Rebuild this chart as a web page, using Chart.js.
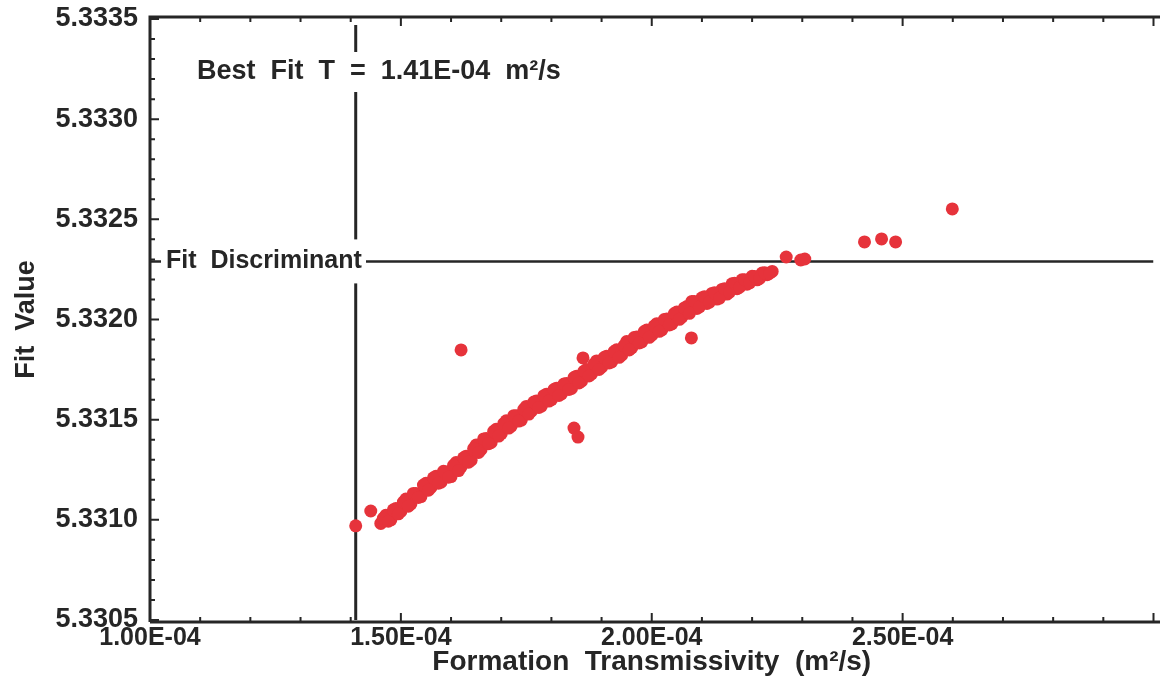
<!DOCTYPE html>
<html>
<head>
<meta charset="utf-8">
<script src="https://cdn.jsdelivr.net/npm/chart.js@4.4.1/dist/chart.umd.min.js"></script>
<style>
  html, body { margin: 0; background: #fff; }
  #wrap { width: 1160px; height: 685px; }
</style>
</head>
<body>
<div id="wrap"><canvas id="fitChart"></canvas></div>
<script>
// Formation transmissivity (m2/s) vs fit value
// main band, first pass
const bandT1 = [
  1.46e-4, 1.47e-4, 1.48e-4, 1.49e-4, 1.50e-4, 1.51e-4, 1.52e-4, 1.53e-4, 1.54e-4, 1.55e-4,
  1.56e-4, 1.57e-4, 1.58e-4, 1.59e-4, 1.60e-4, 1.61e-4, 1.62e-4, 1.63e-4, 1.64e-4, 1.65e-4,
  1.66e-4, 1.67e-4, 1.68e-4, 1.69e-4, 1.70e-4, 1.71e-4, 1.72e-4, 1.73e-4, 1.74e-4, 1.75e-4,
  1.76e-4, 1.77e-4, 1.78e-4, 1.79e-4, 1.80e-4, 1.81e-4, 1.82e-4, 1.83e-4, 1.84e-4, 1.85e-4,
  1.86e-4, 1.87e-4, 1.88e-4, 1.89e-4, 1.90e-4, 1.91e-4, 1.92e-4, 1.93e-4, 1.94e-4, 1.95e-4,
  1.96e-4, 1.97e-4, 1.98e-4, 1.99e-4, 2.00e-4, 2.01e-4, 2.02e-4, 2.03e-4, 2.04e-4, 2.05e-4,
  2.06e-4, 2.07e-4, 2.08e-4, 2.09e-4, 2.10e-4, 2.11e-4, 2.12e-4, 2.13e-4, 2.14e-4, 2.15e-4,
  2.16e-4, 2.17e-4, 2.18e-4, 2.19e-4, 2.20e-4, 2.21e-4, 2.22e-4, 2.23e-4, 2.24e-4
];
const bandFit1 = [
  5.330982, 5.331023, 5.331000, 5.331056, 5.331042, 5.331104, 5.331080, 5.331132, 5.331116, 5.331182,
  5.331162, 5.331217, 5.331188, 5.331239, 5.331216, 5.331286, 5.331264, 5.331318, 5.331298, 5.331373,
  5.331352, 5.331406, 5.331386, 5.331452, 5.331430, 5.331494, 5.331468, 5.331519, 5.331498, 5.331566,
  5.331542, 5.331593, 5.331568, 5.331627, 5.331600, 5.331657, 5.331628, 5.331681, 5.331656, 5.331717,
  5.331692, 5.331750, 5.331728, 5.331793, 5.331762, 5.331817, 5.331788, 5.331849, 5.331822, 5.331890,
  5.331858, 5.331913, 5.331888, 5.331947, 5.331922, 5.331979, 5.331948, 5.332003, 5.331978, 5.332037,
  5.332012, 5.332065, 5.332090, 5.332055, 5.332108, 5.332080, 5.332130, 5.332102, 5.332150, 5.332127,
  5.332178, 5.332154, 5.332198, 5.332176, 5.332216, 5.332198, 5.332232, 5.332224, 5.332240
];
// main band, second pass
const bandT2 = [
  1.465e-4, 1.475e-4, 1.485e-4, 1.495e-4, 1.505e-4, 1.515e-4, 1.525e-4, 1.535e-4, 1.545e-4, 1.555e-4,
  1.565e-4, 1.575e-4, 1.585e-4, 1.595e-4, 1.605e-4, 1.615e-4, 1.625e-4, 1.635e-4, 1.645e-4, 1.655e-4,
  1.665e-4, 1.675e-4, 1.685e-4, 1.695e-4, 1.705e-4, 1.715e-4, 1.725e-4, 1.735e-4, 1.745e-4, 1.755e-4,
  1.765e-4, 1.775e-4, 1.785e-4, 1.795e-4, 1.805e-4, 1.815e-4, 1.825e-4, 1.835e-4, 1.845e-4, 1.855e-4,
  1.865e-4, 1.875e-4, 1.885e-4, 1.895e-4, 1.905e-4, 1.915e-4, 1.925e-4, 1.935e-4, 1.945e-4, 1.955e-4,
  1.965e-4, 1.975e-4, 1.985e-4, 1.995e-4, 2.005e-4, 2.015e-4, 2.025e-4, 2.035e-4, 2.045e-4, 2.055e-4,
  2.065e-4, 2.075e-4, 2.085e-4, 2.095e-4, 2.105e-4, 2.115e-4, 2.125e-4, 2.135e-4, 2.145e-4, 2.155e-4,
  2.165e-4, 2.175e-4, 2.185e-4, 2.195e-4, 2.205e-4, 2.215e-4, 2.225e-4, 2.235e-4
];
const bandFit2 = [
  5.331008, 5.330993, 5.331050, 5.331030, 5.331088, 5.331068, 5.331132, 5.331112, 5.331174, 5.331148,
  5.331210, 5.331183, 5.331242, 5.331213, 5.331272, 5.331246, 5.331310, 5.331288, 5.331355, 5.331336,
  5.331404, 5.331380, 5.331442, 5.331418, 5.331480, 5.331458, 5.331520, 5.331493, 5.331552, 5.331528,
  5.331588, 5.331561, 5.331620, 5.331593, 5.331650, 5.331621, 5.331678, 5.331651, 5.331710, 5.331683,
  5.331742, 5.331718, 5.331778, 5.331751, 5.331810, 5.331783, 5.331840, 5.331811, 5.331870, 5.331848,
  5.331910, 5.331883, 5.331940, 5.331911, 5.331968, 5.331941, 5.332000, 5.331973, 5.332030, 5.332001,
  5.332058, 5.332031, 5.332090, 5.332063, 5.332113, 5.332087, 5.332133, 5.332107, 5.332154, 5.332137,
  5.332181, 5.332161, 5.332199, 5.332183, 5.332215, 5.332205, 5.332233, 5.332231
];
// scattered points off the band
const outlierT = [
  1.41e-4, 1.44e-4, 1.62e-4, 1.845e-4, 1.853e-4, 1.863e-4, 2.079e-4,
  2.268e-4, 2.297e-4, 2.305e-4, 2.424e-4, 2.458e-4, 2.486e-4, 2.599e-4
];
const outlierFit = [
  5.33097, 5.331044, 5.331848, 5.331458, 5.331413, 5.331808, 5.331908,
  5.332312, 5.332297, 5.332302, 5.332387, 5.332402, 5.332387, 5.332552
];

const bestFitT = 1.41e-4;
const fitDiscriminant = 5.33229;

const xTickValues = [1.0e-4, 1.5e-4, 2.0e-4, 2.5e-4];
const xTickLabels = ["1.00E-04", "1.50E-04", "2.00E-04", "2.50E-04"];
const yTickValues = [5.3305, 5.3310, 5.3315, 5.3320, 5.3325, 5.3330, 5.3335];
const yTickLabels = ["5.3305", "5.3310", "5.3315", "5.3320", "5.3325", "5.3330", "5.3335"];

const xMin = 1.0e-4, xMax = 3.0e-4, xMinorStep = 1.0e-5;
const yMin = 5.3305, yMax = 5.3335, yMinorStep = 1.0e-4;

const ink = "#262626";
const FONT = "'Liberation Sans', Arial, sans-serif";

const transmissivity = [...bandT1, ...bandT2, ...outlierT];
const fitValue = [...bandFit1, ...bandFit2, ...outlierFit];
const points = transmissivity.map((t, i) => ({ x: t, y: fitValue[i] }));

// frame + inward ticks + boxed labels
const framePlugin = {
  id: "frame",
  beforeDatasetsDraw(chart) {
    const { ctx, chartArea: a, scales: { x, y } } = chart;
    const right = chart.width;
    ctx.save();
    ctx.strokeStyle = ink;
    ctx.lineWidth = 3;
    ctx.beginPath();
    ctx.moveTo(a.left, a.bottom + 2);
    ctx.lineTo(a.left, a.top - 2);
    ctx.lineTo(right, a.top - 2);
    ctx.moveTo(a.left, a.bottom + 2);
    ctx.lineTo(right, a.bottom + 2);
    ctx.stroke();

    ctx.lineWidth = 2;
    ctx.beginPath();
    for (let i = 0; xMin + i * xMinorStep <= xMax + 1e-12; i++) {
      const v = xMin + i * xMinorStep;
      const px = x.getPixelForValue(v);
      const len = i % 5 === 0 ? 9 : 5;
      ctx.moveTo(px, a.bottom + 2);
      ctx.lineTo(px, a.bottom + 2 - len);
      ctx.moveTo(px, a.top - 2);
      ctx.lineTo(px, a.top - 2 + len);
    }
    for (let i = 0; yMin + i * yMinorStep <= yMax + 1e-9; i++) {
      const v = yMin + i * yMinorStep;
      const py = y.getPixelForValue(v);
      const len = i % 5 === 0 ? 9 : 5;
      ctx.moveTo(a.left, py);
      ctx.lineTo(a.left + len, py);
    }
    ctx.stroke();
    ctx.restore();
  },
  afterDatasetsDraw(chart) {
    const { ctx, scales: { y } } = chart;
    ctx.save();
    ctx.textBaseline = "middle";

    // Best fit label
    const bfY = 72;
    ctx.fillStyle = "#fff";
    ctx.fillRect(190, bfY - 20, 385, 40);
    ctx.fillStyle = ink;
    ctx.font = "bold 27px " + FONT;
    ctx.fillText("Best  Fit  T  =  1.41E-04  m²/s", 197, bfY);

    // Fit discriminant label
    const fdY = y.getPixelForValue(fitDiscriminant);
    ctx.fillStyle = "#fff";
    ctx.fillRect(161, fdY - 22, 205, 44);
    ctx.fillStyle = ink;
    ctx.font = "bold 25px " + FONT;
    ctx.fillText("Fit  Discriminant", 166, fdY);
    ctx.restore();
  }
};

new Chart(document.getElementById("fitChart").getContext("2d"), {
  type: "scatter",
  data: {
    datasets: [
      {
        label: "Fit Value",
        data: points,
        backgroundColor: "#e6333b",
        borderWidth: 0,
        pointRadius: 6.5,
        order: 1,
      },
      {
        label: "Best Fit T",
        data: [{ x: bestFitT, y: yMin }, { x: bestFitT, y: 5.33347 }],
        showLine: true,
        borderColor: ink,
        borderWidth: 3,
        pointRadius: 0,
        order: 2,
      },
      {
        label: "Fit Discriminant",
        data: [{ x: xMin, y: fitDiscriminant }, { x: xMax, y: fitDiscriminant }],
        showLine: true,
        borderColor: ink,
        borderWidth: 2.5,
        pointRadius: 0,
        order: 3,
      },
    ],
  },
  options: {
    responsive: true,
    maintainAspectRatio: false,
    animation: false,
    layout: { padding: { top: 19, right: 0, left: 0, bottom: 0 } },
    plugins: { legend: { display: false }, tooltip: { enabled: false } },
    scales: {
      x: {
        type: "linear",
        min: xMin,
        max: xMax,
        grid: { display: false, drawTicks: false },
        border: { display: false },
        afterBuildTicks: (s) => { s.ticks = xTickValues.map((v) => ({ value: v })); },
        afterFit: (s) => { s.height = 65; s.paddingRight = 0; s.paddingLeft = 0; },
        ticks: {
          autoSkip: false,
          maxRotation: 0,
          padding: 3,
          color: ink,
          font: { family: FONT, size: 25, weight: "bold" },
          callback: (v, i) => xTickLabels[i],
        },
        title: {
          display: true,
          text: "Formation  Transmissivity  (m²/s)",
          color: ink,
          font: { family: FONT, size: 28, weight: "bold" },
          padding: { top: 0, bottom: 6 },
        },
      },
      y: {
        type: "linear",
        min: yMin,
        max: yMax,
        grid: { display: false, drawTicks: false },
        border: { display: false },
        afterBuildTicks: (s) => { s.ticks = yTickValues.map((v) => ({ value: v })); },
        afterFit: (s) => { s.width = 150; s.paddingTop = 0; s.paddingBottom = 0; },
        ticks: {
          autoSkip: false,
          padding: 12,
          color: ink,
          font: { family: FONT, size: 27, weight: "bold" },
          callback: (v, i) => yTickLabels[i],
        },
        title: {
          display: true,
          text: "Fit  Value",
          color: ink,
          font: { family: FONT, size: 27, weight: "bold" },
          padding: { top: 10, bottom: 0 },
        },
      },
    },
  },
  plugins: [framePlugin],
});
</script>
</body>
</html>
